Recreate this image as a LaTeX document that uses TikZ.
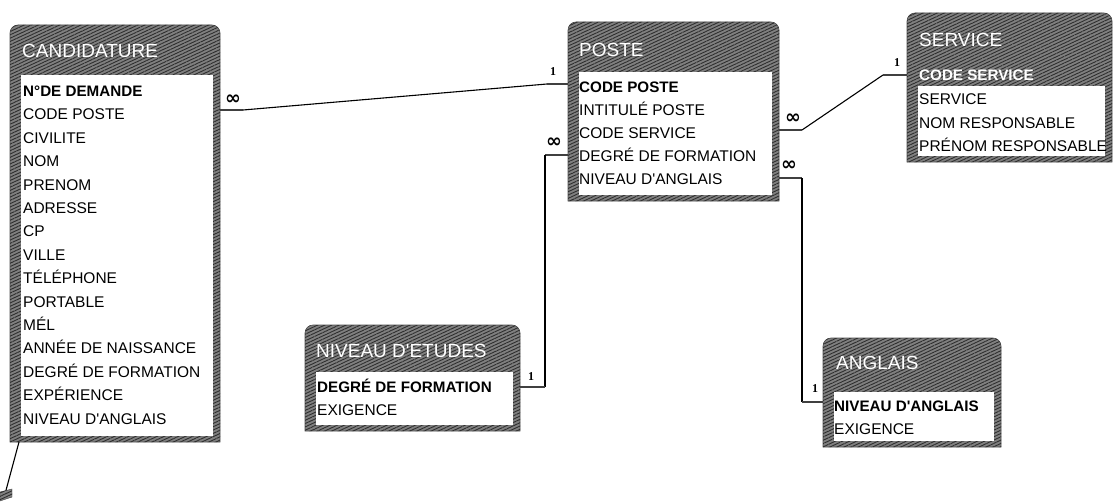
\documentclass[tikz,border=0pt]{standalone}
\usepackage{fontspec}
\setmainfont{Liberation Sans}
\newfontfamily\dvfont{DejaVu Sans}
\newfontfamily\serfont{Liberation Serif}
\usetikzlibrary{patterns.meta}
\newcommand\apo{\textquotesingle}
\tikzset{
  hatchfill/.style={fill=black!50, draw=black!70, line width=0.6pt,
    postaction={pattern={Lines[angle=25,distance=3pt,line width=0.9pt]}, pattern color=black!82}},
  whitebox/.style={fill=white, draw=none},
  field/.style={anchor=west, inner sep=0pt, text height=11.1pt, text depth=0pt,
    font=\fontsize{15.5}{16}\selectfont},
  keyfield/.style={field, font=\bfseries\fontsize{15.2}{16}\selectfont},
  selfield/.style={keyfield, text=white},
  tabtitle/.style={anchor=west, inner sep=0pt, text height=13.6pt, text depth=0pt,
    text=white, font=\fontsize{19}{19}\selectfont},
  stub/.style={line width=2.8pt, draw=black!75},
  link/.style={line width=1.1pt, draw=black},
  infmark/.style={inner sep=0pt, font=\dvfont\bfseries\fontsize{19}{19}\selectfont},
  onemark/.style={inner sep=0pt, font=\serfont\bfseries\fontsize{12}{12}\selectfont},
}
% table frame: x1,y1,x2,y2,white top,white bottom
\newcommand\acctable[6]{%
  \path[hatchfill] (#1,#4) -- (#1,#2+8) arc[start angle=180,end angle=270,radius=8]
    -- (#3-8,#2) arc[start angle=270,end angle=360,radius=8] -- (#3,#4) -- cycle;
  \path[whitebox] (#1+11,#5) rectangle (#3-7,#6);
}
\begin{document}
\begin{tikzpicture}[x=1pt,y=-1pt]
\useasboundingbox (0,0) rectangle (1114,503);

% ---------------- CANDIDATURE
\acctable{10}{25}{220}{442}{75}{436}
\node[tabtitle] (candT) at (22,51) {CANDIDATURE};
\node[keyfield] (cand0) at (23,91) {N°DE DEMANDE};
\node[field] (cand1) at (23,114.4) {CODE POSTE};
\node[field] (cand2) at (23,137.8) {CIVILITE};
\node[field] (cand3) at (23,161.2) {NOM};
\node[field] (cand4) at (23,184.6) {PRENOM};
\node[field] (cand5) at (23,208) {ADRESSE};
\node[field] (cand6) at (23,231.4) {CP};
\node[field] (cand7) at (23,254.8) {VILLE};
\node[field] (cand8) at (23,278.2) {TÉLÉPHONE};
\node[field] (cand9) at (23,301.6) {PORTABLE};
\node[field] (cand10) at (23,325) {MÉL};
\node[field] (cand11) at (23,348.4) {ANNÉE DE NAISSANCE};
\node[field] (cand12) at (23,371.8) {DEGRÉ DE FORMATION};
\node[field] (cand13) at (23,395.2) {EXPÉRIENCE};
\node[field] (cand14) at (23,418.6) {NIVEAU D\apo ANGLAIS};

% ---------------- POSTE
\acctable{568}{22}{779}{201}{72}{195}
\node[tabtitle] (posteT) at (579,50) {POSTE};
\node[keyfield] (poste0) at (579,87) {CODE POSTE};
\node[field] (poste1) at (579,110) {INTITULÉ POSTE};
\node[field] (poste2) at (579,133) {CODE SERVICE};
\node[field] (poste3) at (579,156) {DEGRÉ DE FORMATION};
\node[field] (poste4) at (579,179) {NIVEAU D\apo ANGLAIS};

% ---------------- SERVICE
\acctable{907}{13}{1112}{162}{86}{156}
\node[tabtitle] (servT) at (919,40) {SERVICE};
\node[selfield] (serv0) at (919,75) {CODE SERVICE};
\node[field] (serv1) at (919,99) {SERVICE};
\node[field] (serv2) at (919,122.5) {NOM RESPONSABLE};
\node[field] (serv3) at (919,146) {PRÉNOM RESPONSABLE};

% ---------------- NIVEAU D'ETUDES
\acctable{305}{325}{520}{431}{372}{425}
\node[tabtitle] (etT) at (316,351) {NIVEAU D\apo ETUDES};
\node[keyfield] (et0) at (317,387) {DEGRÉ DE FORMATION};
\node[field] (et1) at (317,410) {EXIGENCE};

% ---------------- ANGLAIS
\acctable{823}{338}{1001}{447}{392}{441}
\node[tabtitle] (angT) at (836,363) {ANGLAIS};
\node[keyfield] (ang0) at (834,406) {NIVEAU D\apo ANGLAIS};
\node[field] (ang1) at (834,429) {EXIGENCE};

% ---------------- connection points
\coordinate (c1a) at (220,110);  \coordinate (c1b) at (243,110);
\coordinate (c1c) at (547,84);   \coordinate (c1d) at (568,84);
\coordinate (c2a) at (568,155);  \coordinate (c2b) at (545,155);
\coordinate (c2c) at (545,387);  \coordinate (c2d) at (520,387);
\coordinate (c3a) at (779,130);  \coordinate (c3b) at (802,130);
\coordinate (c3c) at (883,75);   \coordinate (c3d) at (907,75);
\coordinate (c4a) at (779,178);  \coordinate (c4b) at (802,178);
\coordinate (c4c) at (802,402);  \coordinate (c4d) at (823,402);
\coordinate (c5a) at (19,442);   \coordinate (c5b) at (5,494);

% CANDIDATURE -- POSTE
\draw[stub] (c1a) -- (c1b);
\draw[link] (c1b) -- (c1c);
\draw[stub] (c1c) -- (c1d);
\node[infmark] (inf1) at (233,100) {∞};
\node[onemark] (one1) at (553,72) {1};

% POSTE -- NIVEAU D'ETUDES
\draw[stub] (c2a) -- (c2b);
\draw[link] (c2b) -- (c2c);
\draw[stub] (c2c) -- (c2d);
\node[infmark] (inf2) at (554,143) {∞};
\node[onemark] (one2) at (531,377) {1};

% POSTE -- SERVICE
\draw[stub] (c3a) -- (c3b);
\draw[link] (c3b) -- (c3c);
\draw[stub] (c3c) -- (c3d);
\node[infmark] (inf3) at (793,119) {∞};
\node[onemark] (one3) at (897,63) {1};

% POSTE -- ANGLAIS
\draw[stub] (c4a) -- (c4b);
\draw[link] (c4b) -- (c4c);
\draw[stub] (c4c) -- (c4d);
\node[infmark] (inf4) at (789,166) {∞};
\node[onemark] (one4) at (815,389) {1};

% CANDIDATURE -- off-page link
\draw[link] (c5a) -- (c5b);
\path[hatchfill, line width=0.4pt] (0,492) -- (12,489) -- (12,497) -- (0,501) -- cycle;
\end{tikzpicture}
\end{document}
